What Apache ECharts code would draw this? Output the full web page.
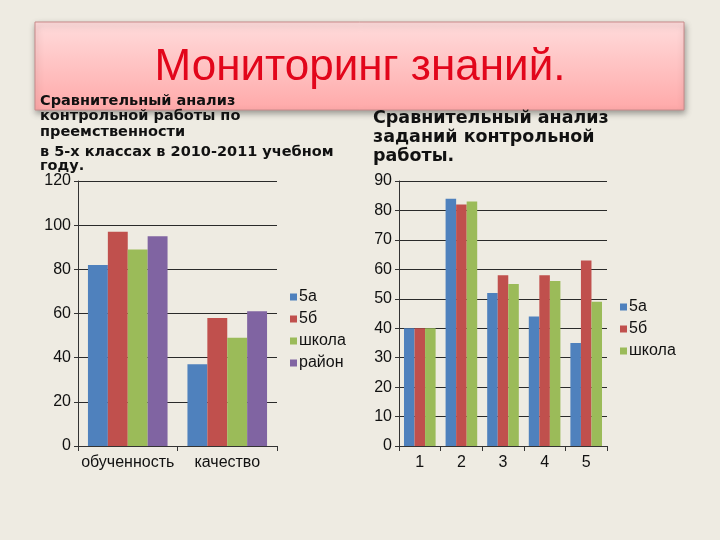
<!DOCTYPE html>
<html>
<head>
<meta charset="utf-8">
<script src="https://cdn.jsdelivr.net/npm/echarts@6/dist/echarts.min.js"></script>
<style>
html,body{margin:0;padding:0;background:#eeebe2;}
#c{width:720px;height:540px;}
</style>
</head>
<body>
<div id="c"></div>
<script>
// Left chart data
const leftCategories = ['обученность', 'качество'];
const left5a = [82, 37];
const left5b = [97, 58];
const leftSchool = [89, 49];
const leftDistrict = [95, 61];

// Right chart data
const rightCategories = ['1', '2', '3', '4', '5'];
const right5a = [40, 84, 52, 44, 35];
const right5b = [40, 82, 58, 58, 63];
const rightSchool = [40, 83, 55, 56, 49];

const seriesNames = ['5а', '5б', 'школа', 'район'];
const colors = ['#4f81bd', '#c0504d', '#9bbb59', '#8064a2'];

const chart = echarts.init(document.getElementById('c'), null, {renderer: 'canvas'});

const axisFont = {fontFamily: 'Liberation Sans', fontSize: 16, color: '#111'};
const gridLine = {show: true, lineStyle: {color: '#2a2a2a', width: 1}};

function yAxis(gridIndex, max, interval) {
  return {
    type: 'value', gridIndex: gridIndex, min: 0, max: max, interval: interval,
    axisLine: {show: true, lineStyle: {color: '#333', width: 1}},
    axisTick: {show: true, inside: false, length: 4, lineStyle: {color: '#333'}},
    axisLabel: Object.assign({margin: 7}, axisFont),
    splitLine: gridLine
  };
}
function xAxis(gridIndex, data) {
  return {
    type: 'category', gridIndex: gridIndex, data: data,
    axisLine: {show: true, lineStyle: {color: '#333', width: 1}},
    axisTick: {show: true, length: 5, lineStyle: {color: '#333'}},
    axisLabel: Object.assign({margin: 9, interval: 0}, axisFont)
  };
}
function bar(name, data, idx, xi, catGap) {
  return {
    name: name, type: 'bar', xAxisIndex: xi, yAxisIndex: xi, data: data,
    barGap: '0%', barCategoryGap: catGap,
    itemStyle: {color: colors[idx]},
    silent: true, animation: false
  };
}

const legendText = {fontFamily: 'Liberation Sans', fontSize: 16, color: '#111', padding: [0,0,0,-3]};

const option = {
  backgroundColor: '#eeebe2',
  animation: false,
  grid: [
    {left: 78, top: 181, width: 199, height: 265},
    {left: 399, top: 181, width: 208, height: 265}
  ],
  xAxis: [xAxis(0, leftCategories), xAxis(1, rightCategories)],
  yAxis: [yAxis(0, 120, 20), yAxis(1, 90, 10)],
  legend: [
    {
      orient: 'vertical', left: 285, top: 284,
      data: seriesNames,
      itemWidth: 7, itemHeight: 7, itemGap: 6, icon: 'rect',
      textStyle: legendText, selectedMode: false
    },
    {
      orient: 'vertical', left: 615, top: 294,
      data: seriesNames.slice(0, 3),
      itemWidth: 7, itemHeight: 7, itemGap: 6, icon: 'rect',
      textStyle: legendText, selectedMode: false
    }
  ],
  series: [
    bar(seriesNames[0], left5a, 0, 0, '20%'),
    bar(seriesNames[1], left5b, 1, 0, '20%'),
    bar(seriesNames[2], leftSchool, 2, 0, '20%'),
    bar(seriesNames[3], leftDistrict, 3, 0, '20%'),
    bar(seriesNames[0], right5a, 0, 1, '24%'),
    bar(seriesNames[1], right5b, 1, 1, '24%'),
    bar(seriesNames[2], rightSchool, 2, 1, '24%')
  ],
  graphic: [
    {
      type: 'rect', z: 0,
      shape: {x: 35, y: 22, width: 649, height: 88},
      style: {
        fill: new echarts.graphic.LinearGradient(0, 0, 0, 1, [
          {offset: 0, color: '#ffdcdc'},
          {offset: 1, color: '#ffa9a9'}
        ]),
        stroke: '#c98a8a', lineWidth: 1,
        shadowBlur: 6, shadowOffsetX: 1, shadowOffsetY: 3, shadowColor: 'rgba(0,0,0,0.35)'
      }
    },
    {
      type: 'text', z: 1, x: 360, y: 68,
      style: {
        text: 'Мониторинг знаний.', fill: '#e2061b',
        font: '44px "Liberation Sans"', align: 'center', verticalAlign: 'middle'
      }
    },
    {
      type: 'text', z: 2, x: 40, y: 93,
      style: {
        text: 'Сравнительный анализ\nконтрольной работы по\nпреемственности',
        fill: '#111', font: 'bold 14.5px "DejaVu Sans"', lineHeight: 15.5,
        align: 'left', verticalAlign: 'top'
      }
    },
    {
      type: 'text', z: 2, x: 40, y: 145,
      style: {
        text: 'в 5-х классах в 2010-2011 учебном\nгоду.',
        fill: '#111', font: 'bold 14.5px "DejaVu Sans"', lineHeight: 14,
        align: 'left', verticalAlign: 'top'
      }
    },
    {
      type: 'text', z: 2, x: 373, y: 109,
      style: {
        text: 'Сравнительный анализ\nзаданий контрольной\nработы.',
        fill: '#111', font: 'bold 17.5px "DejaVu Sans"', lineHeight: 19,
        align: 'left', verticalAlign: 'top'
      }
    }
  ]
};
chart.setOption(option);
</script>
</body>
</html>
